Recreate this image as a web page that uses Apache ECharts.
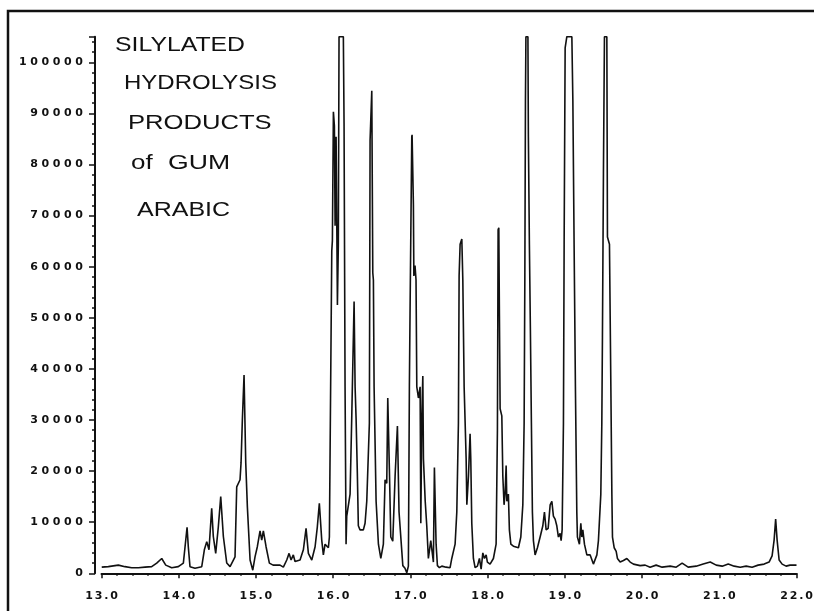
<!DOCTYPE html>
<html>
<head>
<meta charset="utf-8">
<title>Silylated hydrolysis products of gum arabic</title>
<script src="https://cdn.jsdelivr.net/npm/echarts@6/dist/echarts.min.js"></script>
<style>
  html, body { margin: 0; padding: 0; background: #fff; }
  #chart { width: 814px; height: 611px; }
</style>
</head>
<body>
<div id="chart"></div>
<script>
// Retention time (min) and detector response of the chromatogram trace
const retentionTime = [
  13.003, 13.088, 13.218, 13.304, 13.391, 13.477, 13.563, 13.650, 13.715, 13.780,
  13.832, 13.909, 13.995, 14.060, 14.082, 14.108, 14.124, 14.146, 14.211, 14.298,
  14.332, 14.363, 14.392, 14.427, 14.448, 14.479, 14.513, 14.544, 14.578, 14.622,
  14.665, 14.729, 14.751, 14.794, 14.807, 14.824, 14.846, 14.868, 14.889, 14.924,
  14.959, 14.988, 15.018, 15.053, 15.075, 15.096, 15.131, 15.174, 15.222, 15.312,
  15.355, 15.399, 15.429, 15.455, 15.484, 15.506, 15.571, 15.614, 15.649, 15.679,
  15.723, 15.766, 15.795, 15.821, 15.852, 15.873, 15.895, 15.938, 15.951, 15.982,
  15.990, 16.003, 16.016, 16.025, 16.038, 16.055, 16.067, 16.076, 16.132, 16.141,
  16.154, 16.167, 16.176, 16.197, 16.219, 16.241, 16.271, 16.284, 16.297, 16.313,
  16.326, 16.348, 16.391, 16.413, 16.435, 16.469, 16.478, 16.500, 16.513, 16.521,
  16.530, 16.556, 16.586, 16.617, 16.650, 16.672, 16.694, 16.707, 16.728, 16.746,
  16.772, 16.802, 16.832, 16.853, 16.902, 16.930, 16.953, 16.974, 16.987, 16.996,
  17.018, 17.022, 17.039, 17.045, 17.060, 17.073, 17.083, 17.104, 17.126, 17.135,
  17.148, 17.161, 17.169, 17.192, 17.212, 17.233, 17.246, 17.264, 17.277, 17.298,
  17.311, 17.333, 17.350, 17.376, 17.407, 17.462, 17.514, 17.536, 17.579, 17.601,
  17.622, 17.631, 17.644, 17.666, 17.679, 17.696, 17.722, 17.731, 17.752, 17.773,
  17.782, 17.795, 17.816, 17.838, 17.868, 17.894, 17.916, 17.938, 17.959, 17.981,
  17.997, 18.032, 18.075, 18.097, 18.110, 18.127, 18.136, 18.145, 18.153, 18.162,
  18.184, 18.197, 18.213, 18.226, 18.240, 18.249, 18.269, 18.282, 18.301, 18.334,
  18.399, 18.430, 18.456, 18.473, 18.482, 18.490, 18.496, 18.522, 18.528, 18.541,
  18.554, 18.567, 18.580, 18.593, 18.615, 18.645, 18.680, 18.715, 18.736, 18.758,
  18.784, 18.810, 18.832, 18.852, 18.874, 18.896, 18.917, 18.939, 18.952, 18.965,
  18.982, 18.991, 19.004, 19.026, 19.091, 19.104, 19.120, 19.137, 19.155, 19.163,
  19.189, 19.207, 19.220, 19.233, 19.254, 19.285, 19.328, 19.370, 19.415, 19.435,
  19.466, 19.479, 19.487, 19.500, 19.513, 19.544, 19.552, 19.578, 19.596, 19.609,
  19.617, 19.639, 19.665, 19.681, 19.716, 19.759, 19.803, 19.846, 19.889, 19.975,
  20.040, 20.104, 20.182, 20.260, 20.364, 20.442, 20.519, 20.597, 20.701, 20.792,
  20.883, 20.960, 21.038, 21.116, 21.193, 21.271, 21.348, 21.425, 21.503, 21.581,
  21.645, 21.684, 21.710, 21.730, 21.749, 21.775, 21.814, 21.865, 21.917, 22.000
];

const intensity = [
  1200, 1300, 1600, 1300, 1100, 1100, 1200, 1300, 2000, 2900,
  1600, 1100, 1300, 2000, 5200, 9000, 5200, 1300, 1000, 1300,
  4600, 6200, 4600, 12700, 7200, 3900, 9100, 15000, 7200, 2000,
  1300, 3200, 16900, 18300, 21600, 30000, 38800, 21600, 13000, 2600,
  600, 3200, 5200, 8300, 6500, 8300, 5200, 2000, 1600, 1600,
  1200, 2600, 3900, 2600, 3600, 2300, 2600, 4600, 8800, 3900,
  2600, 5200, 9100, 13700, 6500, 3600, 5700, 5000, 7100, 63100,
  65100, 90300, 87500, 68000, 85400, 52500, 64400, 105000, 105000, 88100,
  36500, 5700, 11200, 11200, 15500, 30800, 53200, 36500, 30200, 19600,
  9300, 8500, 8500, 9800, 14100, 29400, 84700, 94400, 58800, 57400,
  36500, 14100, 5700, 2900, 5700, 18300, 17600, 34300, 20400, 7100,
  6300, 19000, 28800, 12000, 1500, 1000, 100, 1400, 36500, 51800,
  85400, 85800, 72100, 58200, 60200, 57400, 36500, 34300, 36500, 9800,
  30800, 38600, 22400, 14100, 9300, 2900, 2900, 6400, 6400, 2200,
  20700, 5700, 1500, 1100, 1400, 1200, 1100, 2900, 5700, 12000,
  29400, 58200, 64400, 65400, 57400, 36500, 22400, 13400, 19000, 27300,
  22400, 9800, 2900, 1100, 1400, 2900, 800, 4000, 2900, 3600,
  2200, 1800, 2900, 2900, 5700, 28000, 67200, 67600, 50400, 32200,
  30800, 19000, 13400, 15500, 21100, 14100, 15500, 8500, 5700, 5300,
  5000, 7100, 13400, 29400, 57400, 92400, 105000, 105000, 85400, 64400,
  47600, 29400, 12000, 6400, 3600, 5000, 7100, 9300, 12000, 8500,
  8800, 13400, 14100, 11200, 10600, 9300, 7100, 7800, 6400, 8500,
  29400, 64400, 102800, 105000, 105000, 92400, 64400, 36500, 12000, 7100,
  5700, 9800, 7100, 8500, 5700, 3600, 3600, 1800, 3600, 6400,
  15500, 29400, 46200, 78300, 105000, 105000, 65800, 64400, 36500, 15500,
  7100, 5000, 4300, 2900, 2200, 2500, 2900, 2200, 1800, 1500,
  1600, 1200, 1600, 1200, 1400, 1200, 2000, 1200, 1400, 1800,
  2200, 1600, 1400, 1800, 1400, 1200, 1400, 1200, 1600, 1800,
  2200, 3400, 6500, 10600, 6500, 2600, 1800, 1400, 1600, 1600
];

// Axis tick values and their printed labels
const xTickValues = [13, 14, 15, 16, 17, 18, 19, 20, 21, 22];
const xTickLabels = ['13.0', '14.0', '15.0', '16.0', '17.0', '18.0', '19.0', '20.0', '21.0', '22.0'];
const yTickValues = [0, 10000, 20000, 30000, 40000, 50000, 60000, 70000, 80000, 90000, 100000];
const yTickLabels = ['0', '10000', '20000', '30000', '40000', '50000', '60000', '70000', '80000', '90000', '100000'];

// Caption printed inside the plot
const captionLines = ['SILYLATED', 'HYDROLYSIS', 'PRODUCTS', 'of', 'GUM', 'ARABIC'];

// Plotter-style lettering: widen the spacing between characters
function spaced(s, gap) {
  return s.split('').join(gap);
}
function lookupLabel(values, labels, v) {
  for (let i = 0; i < values.length; i++) {
    if (Math.abs(values[i] - v) < 1e-6) return spaced(labels[i], '\u2004');
  }
  return '';
}

const trace = retentionTime.map((t, i) => [t, intensity[i]]);

const chart = echarts.init(document.getElementById('chart'), null, { renderer: 'canvas' });

const tickFontCss = 'bold 11px "DejaVu Sans"';
const tickFont = {
  fontFamily: 'DejaVu Sans',
  fontWeight: 'bold',
  fontSize: 11,
  color: '#111'
};

const captionLayout = [
  { x: 115, y: 35, sx: 1.24 },
  { x: 124, y: 73, sx: 1.2 },
  { x: 128, y: 113, sx: 1.28 },
  { x: 131, y: 153, sx: 1.3 },
  { x: 168, y: 153, sx: 1.33 },
  { x: 137, y: 200, sx: 1.25 }
];

const captionGraphics = captionLines.map((txt, i) => ({
  type: 'text',
  id: 'caption' + i,
  x: captionLayout[i].x,
  y: captionLayout[i].y,
  scaleX: captionLayout[i].sx,
  silent: true,
  style: {
    text: txt,
    x: 0,
    y: 0,
    font: '20px "Liberation Sans"',
    fill: '#111',
    textAlign: 'left',
    textVerticalAlign: 'top',
    align: 'left',
    verticalAlign: 'top'
  }
}));

const frame = {
  type: 'polyline',
  id: 'frame',
  silent: true,
  shape: { points: [[8, 611], [8, 11], [814, 11]] },
  style: { stroke: '#111', lineWidth: 2.5, fill: null }
};

chart.setOption({
  animation: false,
  backgroundColor: '#fff',
  grid: {
    left: 101.5,
    right: 17.5,
    top: 36.7,
    bottom: 37.7,
    containLabel: false
  },
  xAxis: {
    type: 'value',
    min: 13,
    max: 22,
    interval: 1,
    offset: 4.5,
    axisLine: { show: true, lineStyle: { color: '#111', width: 2 } },
    axisTick: { show: true, length: 5, lineStyle: { color: '#111', width: 1.5 } },
    minorTick: { show: true, splitNumber: 5, length: 2.5, lineStyle: { color: '#111', width: 1.5 } },
    splitLine: { show: false },
    // time labels are placed below the axis as separate text elements
    axisLabel: { show: false }
  },
  yAxis: {
    type: 'value',
    min: 0,
    max: 105000,
    interval: 10000,
    offset: 6.5,
    axisLine: { show: true, lineStyle: { color: '#111', width: 2 } },
    axisTick: { show: true, length: 6, lineStyle: { color: '#111', width: 1.5 } },
    minorTick: { show: true, splitNumber: 5, length: 3, lineStyle: { color: '#111', width: 1.5 } },
    splitLine: { show: false },
    axisLabel: Object.assign({
      margin: 12,
      hideOverlap: false,
      showMinLabel: true,
      formatter: v => lookupLabel(yTickValues, yTickLabels, v)
    }, tickFont)
  },
  graphic: [frame].concat(captionGraphics),
  series: [
    {
      type: 'line',
      data: trace,
      showSymbol: false,
      symbol: 'none',
      clip: true,
      lineStyle: { color: '#111', width: 1.6 },
      emphasis: { disabled: true }
    }
  ]
});

// Time labels, positioned through the x axis scale
const xAxisLineY = chart.convertToPixel({ yAxisIndex: 0 }, 0) + 4.5;
const timeLabels = xTickValues.map((v, i) => ({
  type: 'text',
  id: 'timeLabel' + i,
  x: chart.convertToPixel({ xAxisIndex: 0 }, v),
  y: xAxisLineY + 13,
  silent: true,
  style: {
    text: spaced(xTickLabels[i], '\u2006'),
    x: 0,
    y: 0,
    font: tickFontCss,
    fill: '#111',
    textAlign: 'center',
    textVerticalAlign: 'top',
    align: 'center',
    verticalAlign: 'top'
  }
}));

chart.setOption({ graphic: [frame].concat(captionGraphics, timeLabels) });
</script>
</body>
</html>
